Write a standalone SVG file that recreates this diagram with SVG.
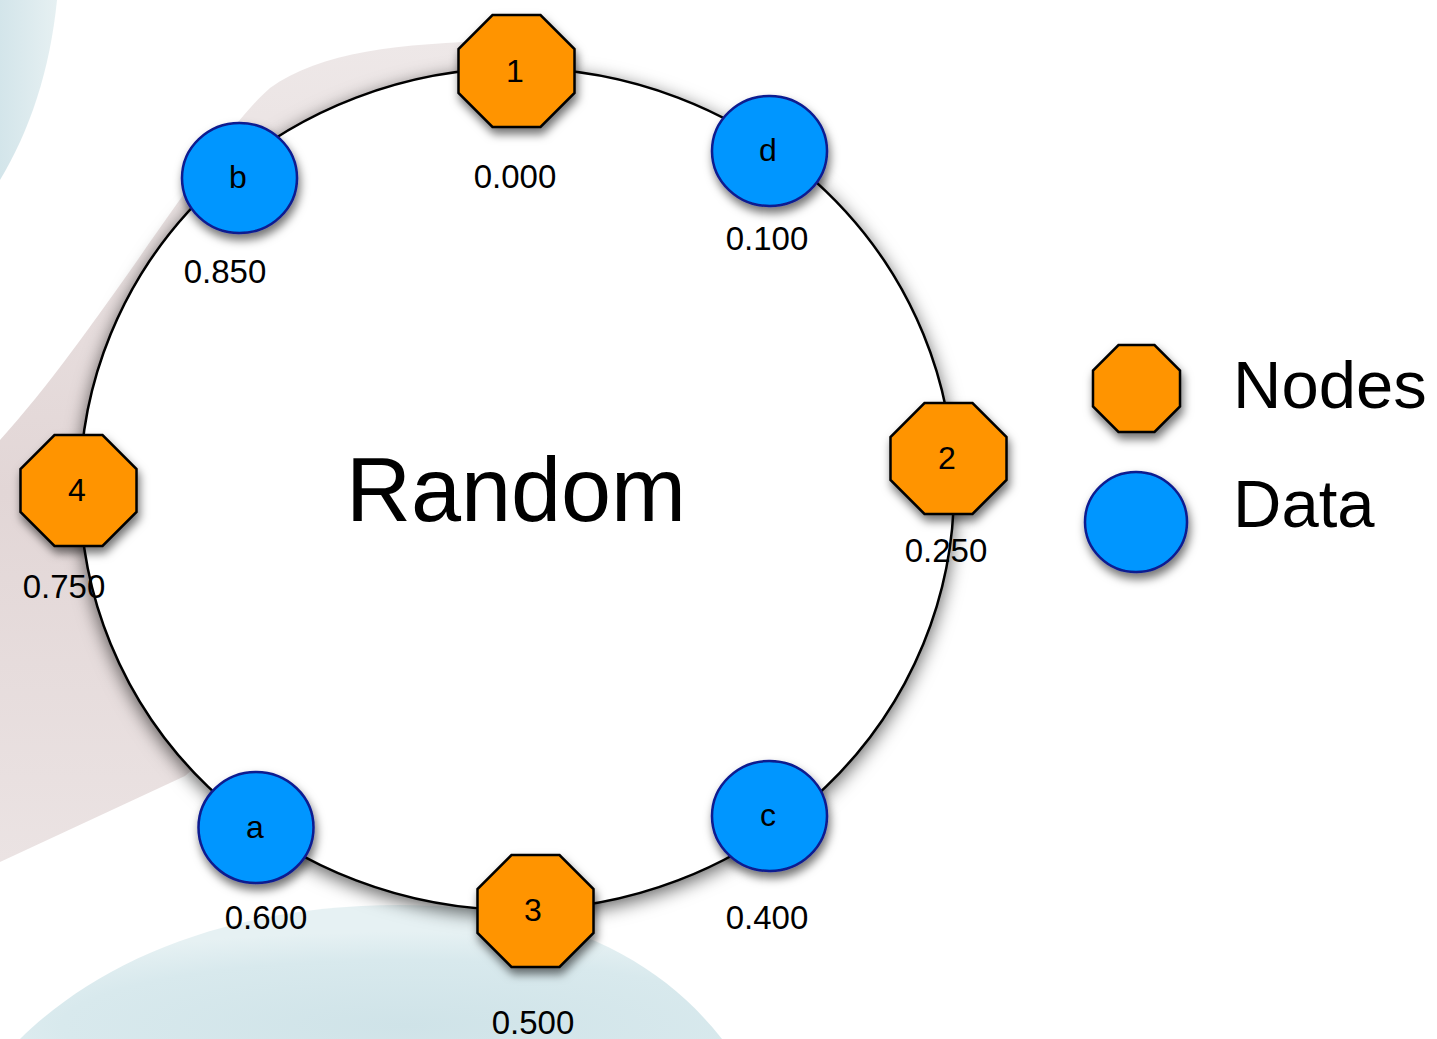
<svg xmlns="http://www.w3.org/2000/svg" width="1437" height="1039" viewBox="0 0 1437 1039">
<defs>
<style>
.oct{fill:#ff9400;stroke:#000;stroke-width:2.5;stroke-linejoin:miter}
.dat{fill:#0096ff;stroke:#0c1a8f;stroke-width:2.5}
.lbl{font-family:"Liberation Sans",Arial,sans-serif;font-size:32px;fill:#000;text-anchor:middle}
.val{font-family:"Liberation Sans",Arial,sans-serif;font-size:33px;fill:#000;text-anchor:middle}
.big{font-family:"Liberation Sans",Arial,sans-serif;fill:#000}
</style>
<filter id="sh" x="-30%" y="-30%" width="160%" height="170%">
<feDropShadow dx="2" dy="6" stdDeviation="5" flood-color="#000" flood-opacity="0.55"/>
</filter>
<filter id="ringsh" x="-10%" y="-10%" width="120%" height="120%">
<feDropShadow dx="0" dy="5" stdDeviation="9" flood-color="#000" flood-opacity="0.6"/>
</filter>
<linearGradient id="pink" x1="0" y1="0" x2="0" y2="1">
<stop offset="0" stop-color="#eee8e8"/>
<stop offset="0.55" stop-color="#e2d6d6"/>
<stop offset="1" stop-color="#ebe3e3"/>
</linearGradient>
<linearGradient id="blueTL" x1="0" y1="0" x2="1" y2="0">
<stop offset="0" stop-color="#d3e5ea"/>
<stop offset="1" stop-color="#e6f0f2"/>
</linearGradient>
<radialGradient id="blueB" cx="0.55" cy="0.9" r="0.7">
<stop offset="0" stop-color="#cfe3e8"/>
<stop offset="0.7" stop-color="#d8e9ed"/>
<stop offset="1" stop-color="#e6f1f3"/>
</radialGradient>
</defs>
<rect width="1437" height="1039" fill="#ffffff"/>
<g id="background">
<path d="M57 0 C50 70 30 130 0 180 L0 0 Z" fill="url(#blueTL)"/>
<path d="M20 1039 C100 960 230 905 400 905 C560 905 660 960 722 1039 Z" fill="url(#blueB)"/>
<path d="M500 41 C400 43 320 52 270 88 C210 140 100 330 0 440 L0 862 L185 776 L500 500 Z" fill="url(#pink)"/>
</g>
<g id="connectors">
<ellipse id="ring" cx="517" cy="489" rx="437" ry="421" fill="#ffffff" stroke="#000" stroke-width="2.5" filter="url(#ringsh)"/>
</g>
<text class="big" x="516" y="521" font-size="90" text-anchor="middle">Random</text>
<g id="node-1">
<polygon class="oct" filter="url(#sh)" points="492.5,15 540.5,15 574.5,49 574.5,93 540.5,127 492.5,127 458.5,93 458.5,49"/>
<text class="lbl" x="515" y="82">1</text>
<text class="val" x="515" y="188">0.000</text>
</g>
<g id="node-d">
<ellipse class="dat" filter="url(#sh)" cx="769.5" cy="151" rx="57.5" ry="55"/>
<text class="lbl" x="768" y="161">d</text>
<text class="val" x="767" y="250">0.100</text>
</g>
<g id="node-2">
<polygon class="oct" filter="url(#sh)" points="924.5,403 972.5,403 1006.5,437 1006.5,480 972.5,514 924.5,514 890.5,480 890.5,437"/>
<text class="lbl" x="947" y="469">2</text>
<text class="val" x="946" y="562">0.250</text>
</g>
<g id="node-c">
<ellipse class="dat" filter="url(#sh)" cx="769.5" cy="816" rx="57.5" ry="55"/>
<text class="lbl" x="768" y="826">c</text>
<text class="val" x="767" y="929">0.400</text>
</g>
<g id="node-3">
<polygon class="oct" filter="url(#sh)" points="511.5,855 559.5,855 593.5,889 593.5,933 559.5,967 511.5,967 477.5,933 477.5,889"/>
<text class="lbl" x="533" y="921">3</text>
<text class="val" x="533" y="1034">0.500</text>
</g>
<g id="node-a">
<ellipse class="dat" filter="url(#sh)" cx="256" cy="827.5" rx="57.5" ry="55.5"/>
<text class="lbl" x="255" y="838">a</text>
<text class="val" x="266" y="929">0.600</text>
</g>
<g id="node-4">
<polygon class="oct" filter="url(#sh)" points="54.5,435 102.5,435 136.5,469 136.5,512 102.5,546 54.5,546 20.5,512 20.5,469"/>
<text class="lbl" x="77" y="501">4</text>
<text class="val" x="64" y="598">0.750</text>
</g>
<g id="node-b">
<ellipse class="dat" filter="url(#sh)" cx="239.5" cy="178" rx="57.5" ry="55"/>
<text class="lbl" x="238" y="188">b</text>
<text class="val" x="225" y="283">0.850</text>
</g>
<g id="legend">
<g id="legend-nodes">
<polygon class="oct" filter="url(#sh)" points="1118.5,345 1154.5,345 1180,370.5 1180,406.5 1154.5,432 1118.5,432 1093,406.5 1093,370.5"/>
<text class="big" x="1233" y="408" font-size="67">Nodes</text>
</g>
<g id="legend-data">
<ellipse class="dat" filter="url(#sh)" cx="1136" cy="522" rx="51" ry="50"/>
<text class="big" x="1233" y="527" font-size="67">Data</text>
</g>
</g>
</svg>
